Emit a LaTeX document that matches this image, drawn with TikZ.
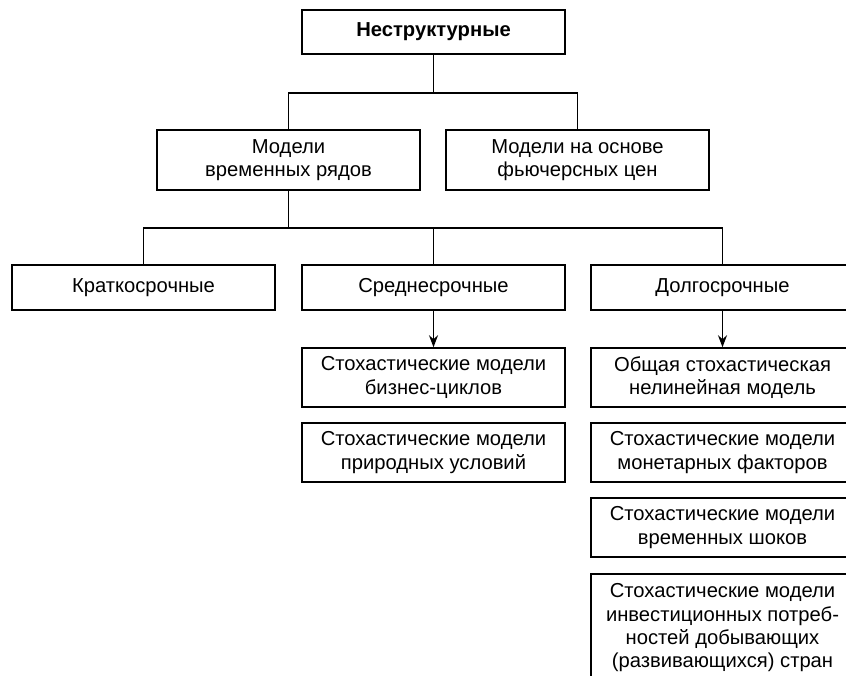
\documentclass[tikz,border=0pt]{standalone}
\usepackage{fontspec}
\setmainfont{Liberation Sans}
\usetikzlibrary{arrows.meta}

\begin{document}
\begin{tikzpicture}[x=0.5pt,y=-0.5pt,
      blok/.style={draw,line width=0.75pt,minimum width=131.5pt,inner sep=0pt,
                   align=center,font=\fontsize{10.1}{11.6}\selectfont},
      liniya/.style={line width=0.7pt},
      strelka/.style={liniya,-{Stealth[length=6pt,width=4.5pt]}}]
    \useasboundingbox (0,0) rectangle (846,675);
    \clip (0,0) rectangle (846,675);
    % verkhniy uroven
    \node[blok,minimum height=22pt,font=\fontsize{10.1}{11.6}\selectfont\bfseries] (nestr) at (433.5,32) {Неструктурные};
    \node[blok,minimum height=30pt] (vr) at (288.5,160) {Модели\\временных рядов};
    \node[blok,minimum height=30pt] (fut) at (577.5,160) {Модели на основе\\фьючерсных цен};
    % sroki
    \node[blok,minimum height=22.5pt] (kr) at (143.5,287.5) {Краткосрочные};
    \node[blok,minimum height=22.5pt] (sr) at (433.5,287.5) {Среднесрочные};
    \node[blok,minimum height=22.5pt] (dl) at (722.5,287.5) {Долгосрочные};
    % srednesrochnye modeli
    \node[blok,minimum height=29.5pt] (sr1) at (433.5,377.5) {Стохастические модели\\бизнес-циклов};
    \node[blok,minimum height=29.5pt] (sr2) at (433.5,452.5) {Стохастические модели\\природных условий};
    % dolgosrochnye modeli
    \node[blok,minimum height=29.5pt] (dl1) at (722.5,377.5) {Общая стохастическая\\нелинейная модель};
    \node[blok,minimum height=29.5pt] (dl2) at (722.5,452.5) {Стохастические модели\\монетарных факторов};
    \node[blok,minimum height=29.5pt] (dl3) at (722.5,527.5) {Стохастические модели\\временных шоков};
    \node[blok,minimum height=54pt,anchor=north] (dl4) at (722.5,573) {Стохастические модели\\инвестиционных потреб-\\ностей добывающих\\(развивающихся) стран};
    % svyazi
    \coordinate (j1) at (433.5,93);
    \coordinate (j2) at (288.5,228);
    \draw[liniya] (nestr) -- (j1);
    \draw[liniya] (vr.north) -- (vr.north |- j1) -- (fut.north |- j1) -- (fut.north);
    \draw[liniya] (vr) -- (j2);
    \draw[liniya] (kr.north) -- (kr.north |- j2) -- (dl.north |- j2) -- (dl.north);
    \draw[liniya] (sr.north) -- (sr.north |- j2);
    \draw[strelka] (sr) -- (sr1);
    \draw[strelka] (dl) -- (dl1);
  \end{tikzpicture}
\end{document}
